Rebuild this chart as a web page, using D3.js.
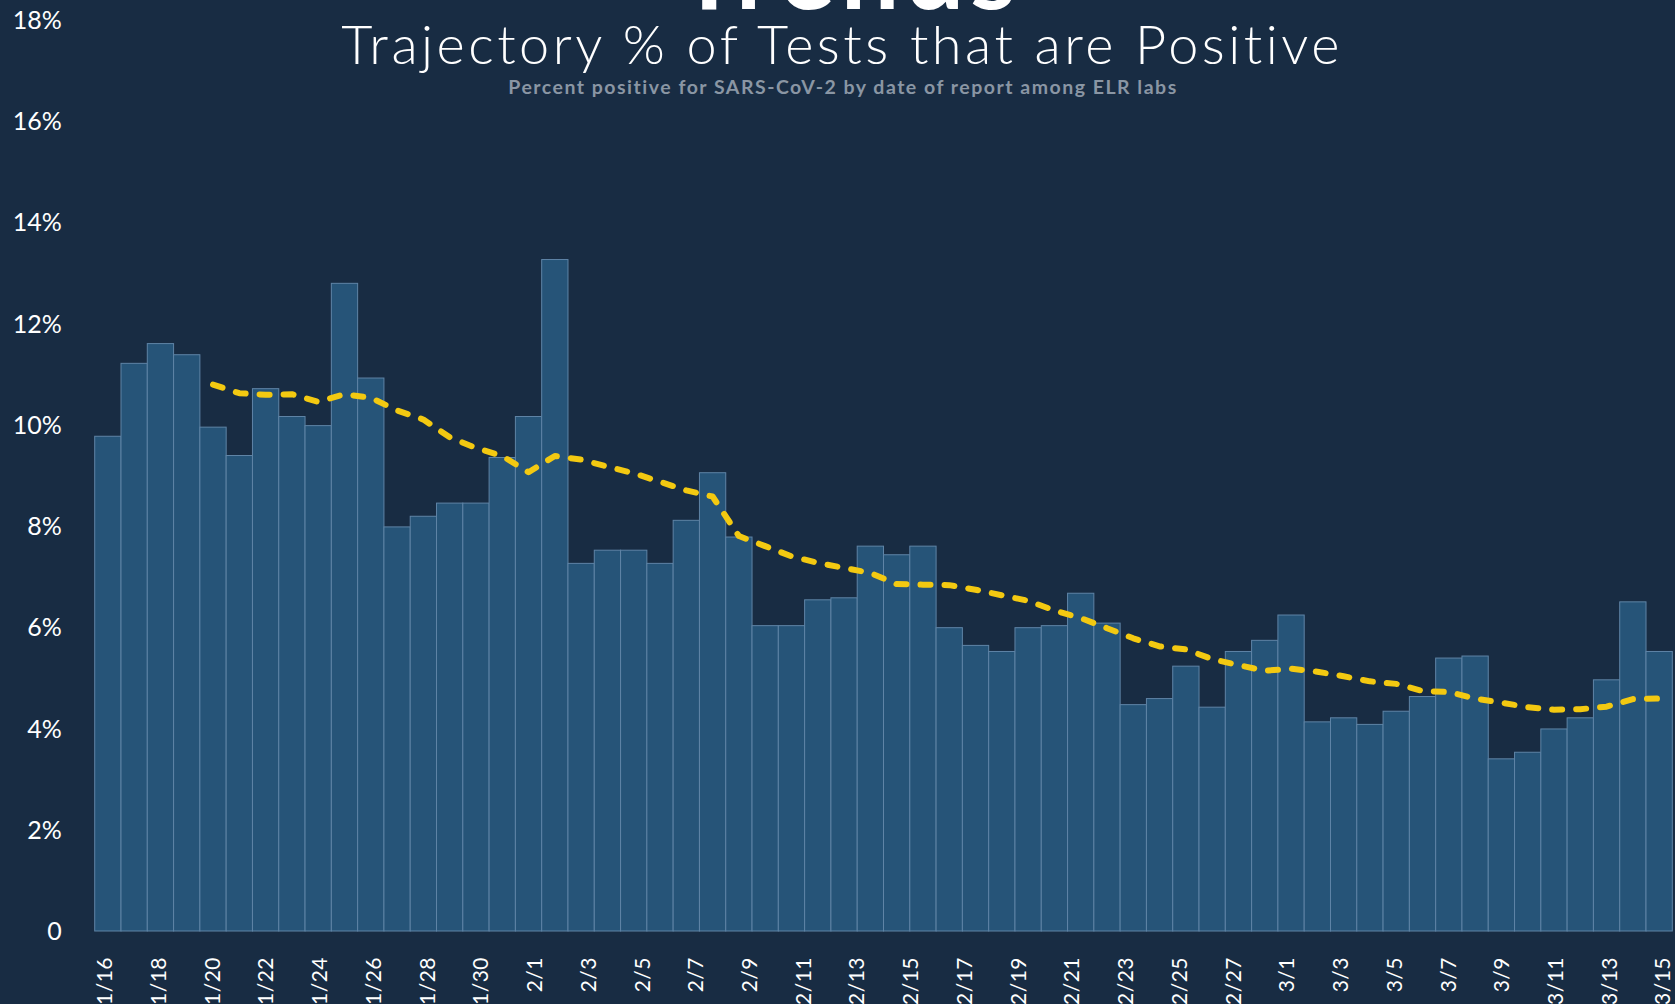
<!DOCTYPE html>
<html>
<head>
<meta charset="utf-8">
<script src="https://cdn.jsdelivr.net/npm/d3@7"></script>
<style>
    html, body { margin: 0; padding: 0; background: #182c43; }
    svg { display: block; }
</style>
</head>
<body>
<div id="chart"></div>
<script>
const chartWidth = 1675;
const chartHeight = 1004;
const margin = { top: 19.5, right: 2.7, bottom: 73, left: 94.7 };

// one bar per report date
const dates = [
    "1/16", "1/17", "1/18", "1/19", "1/20", "1/21", "1/22", "1/23", "1/24", "1/25",
    "1/26", "1/27", "1/28", "1/29", "1/30", "1/31", "2/1", "2/2", "2/3", "2/4",
    "2/5", "2/6", "2/7", "2/8", "2/9", "2/10", "2/11", "2/12", "2/13", "2/14",
    "2/15", "2/16", "2/17", "2/18", "2/19", "2/20", "2/21", "2/22", "2/23", "2/24",
    "2/25", "2/26", "2/27", "2/28", "3/1", "3/2", "3/3", "3/4", "3/5", "3/6",
    "3/7", "3/8", "3/9", "3/10", "3/11", "3/12", "3/13", "3/14", "3/15", "3/16"
];

const pctPositive = [
    9.77, 11.21, 11.60, 11.38, 9.95, 9.39, 10.71, 10.16, 9.98, 12.79,
    10.92, 7.98, 8.19, 8.45, 8.45, 9.35, 10.16, 13.26, 7.26, 7.52,
    7.52, 7.26, 8.11, 9.05, 7.78, 6.03, 6.03, 6.54, 6.58, 7.60,
    7.43, 7.60, 5.99, 5.64, 5.52, 5.99, 6.03, 6.67, 6.08, 4.47,
    4.59, 5.23, 4.42, 5.52, 5.74, 6.24, 4.13, 4.21, 4.08, 4.34,
    4.63, 5.39, 5.43, 3.40, 3.53, 3.99, 4.21, 4.96, 6.50, 5.52
];

// trend line, starts on the fifth day
const movingAvg = [
    null, null, null, null, 10.79, 10.62, 10.59, 10.60, 10.45, 10.60,
    10.53, 10.28, 10.10, 9.75, 9.54, 9.38, 9.06, 9.38, 9.31, 9.17,
    9.04, 8.87, 8.70, 8.58, 7.80, 7.60, 7.40, 7.27, 7.17, 7.07,
    6.85, 6.84, 6.83, 6.74, 6.63, 6.52, 6.33, 6.18, 5.98, 5.78,
    5.62, 5.56, 5.37, 5.25, 5.14, 5.18, 5.12, 5.03, 4.93, 4.88,
    4.74, 4.72, 4.59, 4.51, 4.42, 4.37, 4.38, 4.43, 4.58, 4.59
];

const tickLabels = [
    "1/16", "1/18", "1/20", "1/22", "1/24", "1/26", "1/28", "1/30", "2/1", "2/3",
    "2/5", "2/7", "2/9", "2/11", "2/13", "2/15", "2/17", "2/19", "2/21", "2/23",
    "2/25", "2/27", "3/1", "3/3", "3/5", "3/7", "3/9", "3/11", "3/13", "3/15"
];

const yTicks = [0, 2, 4, 6, 8, 10, 12, 14, 16, 18];

const fontFamily = "Lato, 'Open Sans', sans-serif";

class PositivityChart {
    constructor(parent) {
        this.parent = parent;
    }

    initVis() {
        let vis = this;

        vis.svg = d3.select(vis.parent)
            .append("svg")
            .attr("width", chartWidth)
            .attr("height", chartHeight)
            .style("background", "#182c43");

        vis.x = d3.scaleBand()
            .domain(dates)
            .range([margin.left, chartWidth - margin.right])
            .padding(0);

        // the date labels are spread evenly, not one per two bars
        vis.xLabel = d3.scalePoint()
            .domain(tickLabels)
            .range([margin.left, chartWidth - margin.right])
            .padding(0.18);

        vis.y = d3.scaleLinear()
            .domain([0, 18])
            .range([chartHeight - margin.bottom, margin.top]);

        vis.drawTitles();
        vis.drawAxes();
        vis.drawBars();
        vis.drawLine();
    }

    drawTitles() {
        let vis = this;

        vis.svg.append("text")
            .attr("x", 850)
            .attr("y", 9)
            .attr("text-anchor", "middle")
            .style("font-family", fontFamily)
            .style("font-weight", 700)
            .style("font-size", "104px")
            .style("letter-spacing", "6px")
            .style("fill", "#fff")
            .text("Trends");

        vis.svg.append("text")
            .attr("x", 842)
            .attr("y", 64)
            .attr("text-anchor", "middle")
            .style("font-family", fontFamily)
            .style("font-weight", 300)
            .style("font-size", "54px")
            .style("letter-spacing", "3.5px")
            .style("fill", "#fff")
            .text("Trajectory % of Tests that are Positive");

        vis.svg.append("text")
            .attr("x", 843)
            .attr("y", 94)
            .attr("text-anchor", "middle")
            .style("font-family", fontFamily)
            .style("font-weight", 700)
            .style("font-size", "19.5px")
            .style("letter-spacing", "1.5px")
            .style("fill", "#8a96a4")
            .text("Percent positive for SARS-CoV-2 by date of report among ELR labs");
    }

    drawAxes() {
        let vis = this;

        const yAxis = d3.axisLeft(vis.y)
            .tickValues(yTicks)
            .tickSize(0)
            .tickPadding(33)
            .tickFormat(d => d === 0 ? "0" : d + "%");

        vis.svg.append("g")
            .attr("transform", "translate(" + margin.left + ",0)")
            .call(yAxis)
            .call(g => g.select(".domain").remove())
            .selectAll("text")
            .attr("dy", "0.35em")
            .style("font-family", fontFamily)
            .style("font-size", "25px")
            .style("fill", "#fff");

        const xAxis = d3.axisBottom(vis.xLabel)
            .tickSize(0)
            .tickPadding(0);

        vis.svg.append("g")
            .attr("transform", "translate(0," + vis.y(0) + ")")
            .call(xAxis)
            .call(g => g.select(".domain").remove())
            .selectAll("text")
            .attr("transform", "rotate(-90)")
            .attr("x", -26)
            .attr("y", 0)
            .attr("dy", "0.35em")
            .style("text-anchor", "end")
            .style("font-family", fontFamily)
            .style("font-size", "21px")
            .style("letter-spacing", "0.5px")
            .style("fill", "#fff");
    }

    drawBars() {
        let vis = this;

        vis.svg.append("g")
            .selectAll("rect")
            .data(pctPositive)
            .join("rect")
            .attr("x", (d, i) => vis.x(dates[i]))
            .attr("y", d => vis.y(d))
            .attr("width", vis.x.bandwidth())
            .attr("height", d => vis.y(0) - vis.y(d))
            .attr("fill", "#265478")
            .attr("stroke", "#5f84a6")
            .attr("stroke-width", 1);
    }

    drawLine() {
        let vis = this;

        const line = d3.line()
            .defined(d => d != null)
            .x((d, i) => vis.x(dates[i]) + vis.x.bandwidth() / 2)
            .y(d => vis.y(d));

        vis.svg.append("path")
            .datum(movingAvg)
            .attr("d", line)
            .attr("fill", "none")
            .attr("stroke", "#f3c911")
            .attr("stroke-width", 6)
            .attr("stroke-linecap", "round")
            .attr("stroke-linejoin", "round")
            .attr("stroke-dasharray", "10,14");
    }
}

const chart = new PositivityChart("#chart");
chart.initVis();
</script>
</body>
</html>
